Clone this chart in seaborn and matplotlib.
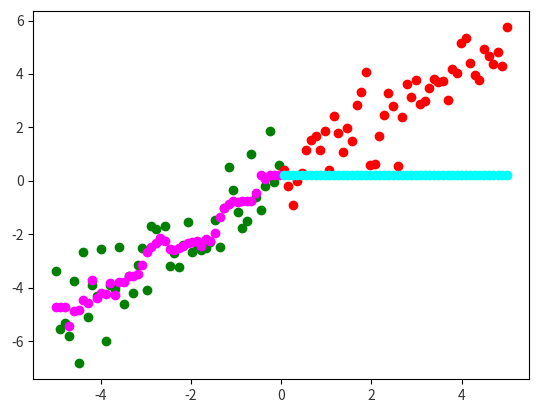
import numpy as np
import pandas as pd
import matplotlib
matplotlib.use("Agg")
import matplotlib.pyplot as plt
import seaborn as sns

# sample positions (left half / right half of the x range)
x_left = [-5.00, -4.90, -4.80, -4.70, -4.60, -4.49, -4.39, -4.29, -4.19, -4.09,
          -3.99, -3.89, -3.79, -3.69, -3.59, -3.48, -3.38, -3.28, -3.18, -3.08,
          -2.98, -2.88, -2.78, -2.68, -2.58, -2.47, -2.37, -2.27, -2.17, -2.07,
          -1.97, -1.87, -1.77, -1.67, -1.57, -1.46, -1.36, -1.26, -1.16, -1.06,
          -0.96, -0.86, -0.76, -0.66, -0.56, -0.45, -0.35, -0.25, -0.15, -0.05]
x_right = [0.05, 0.15, 0.25, 0.35, 0.45, 0.56, 0.66, 0.76, 0.86, 0.96,
           1.06, 1.16, 1.26, 1.36, 1.46, 1.57, 1.67, 1.77, 1.87, 1.97,
           2.07, 2.17, 2.27, 2.37, 2.47, 2.58, 2.68, 2.78, 2.88, 2.98,
           3.08, 3.18, 3.28, 3.38, 3.48, 3.59, 3.69, 3.79, 3.89, 3.99,
           4.09, 4.19, 4.29, 4.39, 4.49, 4.60, 4.70, 4.80, 4.90, 5.00]

# noisy observations
green_y = [-3.36, -5.54, -5.33, -5.80, -3.73, -6.80, -2.65, -5.08, -3.91, -4.30,
           -2.55, -5.99, -3.90, -4.05, -2.48, -4.61, -3.57, -4.21, -3.15, -2.53,
           -4.07, -1.70, -1.82, -2.20, -1.68, -3.18, -2.70, -3.21, -2.40, -1.53,
           -2.66, -2.40, -2.60, -2.51, -2.30, -1.47, -2.47, -1.02, 0.52, -0.33,
           -1.17, -1.77, -1.49, 1.02, -0.60, -1.10, -0.18, 1.87, -0.06, 0.60]
red_y = [0.41, -0.19, -0.90, -0.02, 0.30, 1.15, 1.52, 1.69, 1.15, 1.87,
         0.39, 2.42, 1.78, 1.07, 1.97, 1.49, 2.83, 3.31, 4.07, 0.60,
         0.63, 1.67, 2.46, 3.27, 2.79, 0.56, 2.39, 3.62, 3.14, 3.76,
         2.86, 2.99, 3.49, 3.81, 3.71, 3.73, 3.02, 4.17, 4.02, 5.15,
         5.33, 4.41, 3.97, 3.76, 4.95, 4.69, 4.36, 4.84, 4.29, 5.74]

# fitted curves
magenta_y = [-4.74, -4.74, -4.74, -5.45, -4.87, -4.84, -4.46, -4.57, -3.71, -4.37,
             -4.20, -4.23, -3.82, -4.26, -3.80, -3.77, -3.58, -3.55, -3.49, -3.15,
             -2.65, -2.49, -2.32, -2.14, -2.27, -2.55, -2.59, -2.53, -2.43, -2.34,
             -2.28, -2.25, -2.43, -2.19, -2.27, -1.94, -1.37, -1.00, -0.87, -0.75,
             -0.81, -0.77, -0.77, -0.75, -0.46, 0.22, 0.06, 0.22, 0.22, 0.22]
cyan_level = 0.21

plt.rcParams["font.family"] = ["Noto Sans CJK SC", "DejaVu Sans"]
plt.rcParams["axes.unicode_minus"] = False

fig = plt.figure(figsize=(5.39, 4.13), dpi=100)
ax = fig.add_axes([0.0618, 0.0816, 0.920, 0.8925])

def dots(x, y, color):
    # matplotlib-style scatter: edge drawn in the face colour
    sns.scatterplot(x=x, y=y, color=color, edgecolor=color, s=36,
                    linewidth=1.0, ax=ax)

dots(x_left, green_y, "green")
dots(x_right, red_y, "red")
dots(x_left, magenta_y, "magenta")
cyan_df = pd.DataFrame({"x": x_right, "y": [cyan_level] * len(x_right)})
dots(cyan_df["x"], cyan_df["y"], "cyan")

ax.set_xlabel("")
ax.set_ylabel("")
ax.set_xticks([-4, -2, 0, 2, 4])
ax.set_yticks([-6, -4, -2, 0, 2, 4, 6])
ax.tick_params(labelsize=10, labelcolor="#333333")

fig.savefig("out.png", dpi=100)
plt.close(fig)
